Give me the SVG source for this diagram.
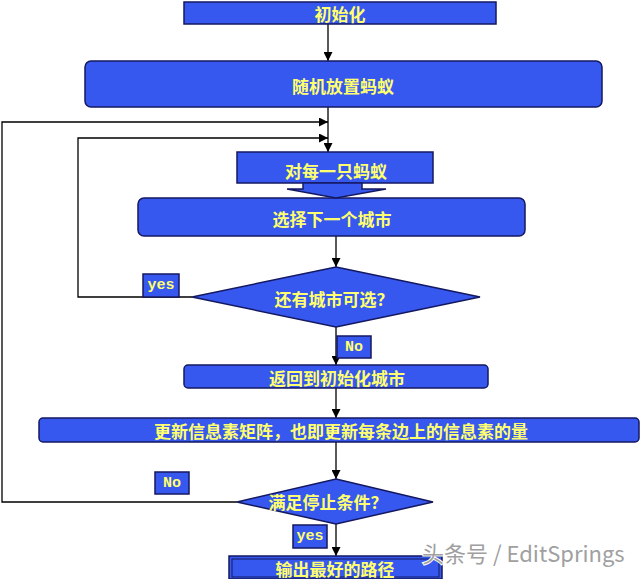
<svg xmlns="http://www.w3.org/2000/svg" width="640" height="579" viewBox="0 0 640 579">
<defs>
<style>
.n{fill:#3658ee;stroke:#141860;stroke-width:1.5}
.t{font-family:"Noto Sans CJK SC","Noto Sans CJK JP",sans-serif;font-size:17px;fill:#ffff70;text-anchor:middle;dominant-baseline:central;font-weight:bold}
.lb{fill:#3658ee;stroke:#141860;stroke-width:1.5}
.lt{font-family:"Liberation Mono",monospace;font-size:15px;font-weight:bold;fill:#ffff70;text-anchor:middle;dominant-baseline:central}
.c{fill:none;stroke:#000;stroke-width:1.3}
.wm{font-family:"Noto Sans CJK SC",sans-serif;font-size:22px;fill:#a0a0a0;stroke:#fff;stroke-width:2;paint-order:stroke}
</style>
<marker id="ah" viewBox="0 0 10 10" refX="10" refY="5" markerWidth="9" markerHeight="9" markerUnits="userSpaceOnUse" orient="auto">
<path d="M0,0 L10,5 L0,10 z" fill="#000"/>
</marker>
</defs>
<rect width="640" height="579" fill="#fff"/>
<g id="connectors">
<path class="c" d="M328,24 V61" marker-end="url(#ah)"/>
<path class="c" d="M328,107 V152" marker-end="url(#ah)"/>
<path class="c" d="M237,502 H2 V122 H328" marker-end="url(#ah)"/>
<path class="c" d="M192,297 H78 V138 H328" marker-end="url(#ah)"/>
<path class="c" d="M336,236 V267" marker-end="url(#ah)"/>
<path class="c" d="M336,327 V365" marker-end="url(#ah)"/>
<path class="c" d="M336,388 V418" marker-end="url(#ah)"/>
<path class="c" d="M336,442 V479" marker-end="url(#ah)"/>
<path class="c" d="M336,524 V556" marker-end="url(#ah)"/>
</g>
<g id="n1"><rect class="n" x="184" y="2" width="312" height="22"/><text class="t" x="340" y="13">初始化</text></g>
<g id="n2"><rect class="n" x="85" y="61" width="517" height="46" rx="6"/><text class="t" x="343" y="85">随机放置蚂蚁</text></g>
<g id="n4"><rect class="n" x="138" y="198" width="387" height="38" rx="6"/><text class="t" x="332" y="218">选择下一个城市</text></g>
<g id="n3"><rect class="n" x="237" y="152" width="196" height="31"/><text class="t" x="336" y="170">对每一只蚂蚁</text>
<path class="n" d="M303,183 H362 V189 H386 L336,198 L287,189 H303 z"/></g>
<g id="d1"><polygon class="n" points="336,267 480,297 336,327 192,297"/><text class="t" x="334" y="298">还有城市可选？</text></g>
<g id="l1"><rect class="lb" x="143" y="274" width="36" height="23"/><text class="lt" x="161" y="285">yes</text></g>
<g id="l2"><rect class="lb" x="337" y="336" width="34" height="22"/><text class="lt" x="354" y="347">No</text></g>
<g id="n5"><rect class="n" x="184" y="365" width="304" height="23" rx="4"/><text class="t" x="337" y="377">返回到初始化城市</text></g>
<g id="n6"><rect class="n" x="39" y="418" width="600" height="24" rx="4"/><text class="t" x="341" y="430">更新信息素矩阵，也即更新每条边上的信息素的量</text></g>
<g id="d2"><polygon class="n" points="336,479 433,502 336,524 237,502"/><text class="t" x="328" y="501">满足停止条件？</text></g>
<g id="l3"><rect class="lb" x="155" y="472" width="34" height="22"/><text class="lt" x="172" y="483">No</text></g>
<g id="l4"><rect class="lb" x="293" y="525" width="34" height="23"/><text class="lt" x="310" y="536">yes</text></g>
<g id="n7"><rect class="n" x="229" y="556" width="213" height="23"/><rect x="232" y="559" width="207" height="18" fill="none" stroke="#141860" stroke-width="1"/><text class="t" x="335" y="568">输出最好的路径</text></g>
<text class="wm" x="422" y="562">头条号 / EditSprings</text>
</svg>
